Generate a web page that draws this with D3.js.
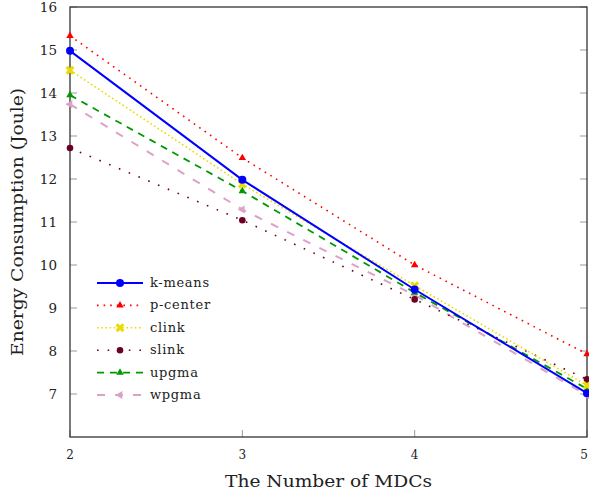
<!DOCTYPE html>
<html>
<head>
<meta charset="utf-8">
<script src="https://cdn.jsdelivr.net/npm/d3@7"></script>
<style>
  body { margin: 0; background: #fff; }
  text { font-family: "DejaVu Serif", "Liberation Serif", serif; fill: #222; }
</style>
</head>
<body>
<div id="vis"></div>
<script>
// DATA ---------------------------------------------------------------
const mdcs = [2, 3, 4, 5]
const kmeans  = [14.98, 11.98, 9.43, 7.02]
const pcenter = [15.33, 12.49, 10.0, 7.93]
const clink   = [14.53, 11.88, 9.52, 7.20]
const slink   = [12.72, 11.04, 9.20, 7.34]
const upgma   = [13.95, 11.72, 9.36, 7.12]
const wpgma   = [13.74, 11.29, 9.30, 6.97]
const yTicks  = [7, 8, 9, 10, 11, 12, 13, 14, 15, 16]

const series = [
  { name: "k-means",  values: kmeans,  color: "#0000ff", width: 2,   dash: null,    mark: "circle" },
  { name: "p-center", values: pcenter, color: "#ff0000", width: 1.6, dash: "1.6,5", mark: "tri" },
  { name: "clink",    values: clink,   color: "#e8dc00", width: 1.6, dash: "1.6,2.6", mark: "star" },
  { name: "slink",    values: slink,   color: "#6b0022", width: 1.6, dash: "1.6,9", mark: "dot" },
  { name: "upgma",    values: upgma,   color: "#009900", width: 1.8, dash: "7,6",   mark: "tri" },
  { name: "wpgma",    values: wpgma,   color: "#dda0c8", width: 2,   dash: "8,10",  mark: "left" }
]

// LAYOUT -------------------------------------------------------------
const W = 589, H = 496
const margin = { left: 70, right: 2, top: 7, bottom: 59 }

const svg = d3.select("#vis").append("svg")
  .attr("width", W).attr("height", H)

const x = d3.scaleLinear().domain([2, 5]).range([margin.left, W - margin.right])
const y = d3.scaleLinear().domain([6, 16]).range([H - margin.bottom, margin.top])

// tick marks (gray, inside, left and right)
const tickG = svg.append("g").attr("stroke", "#999").attr("stroke-width", 1)
yTicks.forEach(t => {
  tickG.append("line").attr("x1", x(2)).attr("x2", x(2) + 7).attr("y1", y(t)).attr("y2", y(t))
  tickG.append("line").attr("x1", x(5)).attr("x2", x(5) - 7).attr("y1", y(t)).attr("y2", y(t))
})
mdcs.forEach(t => {
  tickG.append("line").attr("x1", x(t)).attr("x2", x(t)).attr("y1", y(6)).attr("y2", y(6) - 7)
})

// frame
svg.append("rect")
  .attr("x", x(2)).attr("y", y(16))
  .attr("width", x(5) - x(2)).attr("height", y(6) - y(16))
  .attr("fill", "none").attr("stroke", "#333").attr("stroke-width", 1.3)

// tick labels
svg.append("g").selectAll("text").data(yTicks).join("text")
  .attr("x", x(2) - 13).attr("y", d => y(d) + 5)
  .attr("text-anchor", "end").attr("font-size", 13.5)
  .text(d => d)

svg.append("g").selectAll("text").data(mdcs).join("text")
  .attr("x", d => Math.min(x(d), W - 5)).attr("y", y(6) + 22)
  .attr("text-anchor", "middle").attr("font-size", 12)
  .text(d => d)

// axis titles
svg.append("text")
  .attr("x", (x(2) + x(5)) / 2).attr("y", H - 9)
  .attr("text-anchor", "middle").attr("font-size", 17)
  .attr("textLength", 207).attr("lengthAdjust", "spacingAndGlyphs")
  .text("The Number of MDCs")

svg.append("text")
  .attr("transform", `translate(23,${(y(6) + y(16)) / 2}) rotate(-90)`)
  .attr("text-anchor", "middle").attr("font-size", 17)
  .attr("textLength", 268).attr("lengthAdjust", "spacingAndGlyphs")
  .text("Energy Consumption (Joule)")

// MARKERS ------------------------------------------------------------
function drawMark(g, kind, cx, cy, color) {
  if (kind === "circle") {
    g.append("circle").attr("cx", cx).attr("cy", cy).attr("r", 4).attr("fill", color)
  } else if (kind === "dot") {
    g.append("circle").attr("cx", cx).attr("cy", cy).attr("r", 3.3).attr("fill", color)
  } else if (kind === "tri") {
    g.append("path").attr("d", d3.symbol(d3.symbolTriangle, 24)())
      .attr("transform", `translate(${cx},${cy})`).attr("fill", color)
  } else if (kind === "star") {
    g.append("path").attr("d", d3.symbol(d3.symbolCross, 50)())
      .attr("transform", `translate(${cx},${cy}) rotate(45)`).attr("fill", color)
  } else if (kind === "left") {
    g.append("path").attr("d", d3.symbol(d3.symbolTriangle, 28)())
      .attr("transform", `translate(${cx},${cy}) rotate(-90)`).attr("fill", color)
  }
}

// LINES --------------------------------------------------------------
const line = d3.line().x((d, i) => x(mdcs[i])).y(d => y(d))

const plot = svg.append("g")
series.slice().reverse().forEach(s => {
  plot.append("path")
    .attr("d", line(s.values))
    .attr("fill", "none")
    .attr("stroke", s.color)
    .attr("stroke-width", s.width)
    .attr("stroke-linecap", s.dash ? "butt" : "round")
    .attr("stroke-dasharray", s.dash)
  s.values.forEach((v, i) => drawMark(plot, s.mark, x(mdcs[i]), y(v), s.color))
})

// LEGEND -------------------------------------------------------------
const lg = svg.append("g").attr("transform", "translate(97,283)")
series.forEach((s, i) => {
  const row = lg.append("g").attr("transform", `translate(0,${i * 22.4})`)
  row.append("line").attr("x1", 0).attr("x2", 46).attr("y1", 0).attr("y2", 0)
    .attr("stroke", s.color).attr("stroke-width", s.width)
    .attr("stroke-dasharray", s.dash)
  drawMark(row, s.mark, 23, 0, s.color)
  row.append("text").attr("x", 53).attr("y", 4).attr("font-size", 13)
    .attr("letter-spacing", 0.7).text(s.name)
})
</script>
</body>
</html>
